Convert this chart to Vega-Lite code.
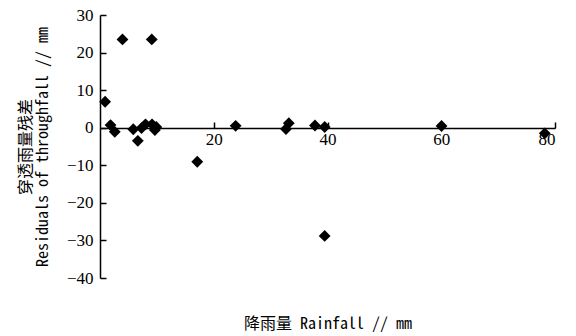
{
  "$schema": "https://vega.github.io/schema/vega-lite/v6.json",
  "width": 455,
  "height": 263,
  "autosize": {"type": "none"},
  "padding": {"left": 100, "top": 15, "right": 21, "bottom": 58},
  "background": "white",
  "config": {"view": {"stroke": null}},
  "data": {
    "values": [
      {"rainfall": 0.9, "residual": 6.9},
      {"rainfall": 3.95, "residual": 23.5},
      {"rainfall": 9.1, "residual": 23.5},
      {"rainfall": 1.85, "residual": 0.7},
      {"rainfall": 2.6, "residual": -1.1},
      {"rainfall": 5.85, "residual": -0.4},
      {"rainfall": 6.65, "residual": -3.5},
      {"rainfall": 7.3, "residual": -0.1},
      {"rainfall": 8.0, "residual": 0.9},
      {"rainfall": 9.15, "residual": 0.9},
      {"rainfall": 9.9, "residual": 0.2},
      {"rainfall": 9.65, "residual": -0.6},
      {"rainfall": 17.1, "residual": -9.05},
      {"rainfall": 23.85, "residual": 0.5},
      {"rainfall": 32.7, "residual": -0.35},
      {"rainfall": 33.2, "residual": 1.2},
      {"rainfall": 37.8, "residual": 0.6},
      {"rainfall": 39.5, "residual": 0.2},
      {"rainfall": 39.5, "residual": -28.8},
      {"rainfall": 60.05, "residual": 0.45},
      {"rainfall": 78.2, "residual": -1.5}
    ]
  },
  "mark": {"type": "point", "shape": "diamond", "filled": true, "color": "black", "size": 140, "opacity": 1},
  "encoding": {
    "x": {
      "field": "rainfall",
      "type": "quantitative",
      "scale": {"domain": [0, 80], "nice": false, "zero": false},
      "axis": {
        "values": [20, 40, 60, 80],
        "offset": -150,
        "tickSize": -6,
        "tickColor": "black",
        "tickWidth": 1.5,
        "domainColor": "black",
        "domainWidth": 1.5,
        "grid": false,
        "labelFont": "Liberation Serif, Times New Roman, serif",
        "labelFontSize": 17,
        "labelColor": "#000000",
        "labelPadding": 9,
        "title": "降雨量 Rainfall // mm",
        "titleFont": "Noto Sans Mono CJK SC, Liberation Mono, Noto Sans CJK SC",
        "titleFontSize": 16,
        "titleFontWeight": "normal",
        "titleColor": "black",
        "titleY": 195,
        "titleBaseline": "middle"
      }
    },
    "y": {
      "field": "residual",
      "type": "quantitative",
      "scale": {"domain": [-40, 30], "nice": false, "zero": false},
      "axis": {
        "values": [-40, -30, -20, -10, 0, 10, 20, 30],
        "tickSize": -6,
        "tickColor": "black",
        "tickWidth": 1.5,
        "domainColor": "black",
        "domainWidth": 1.5,
        "grid": false,
        "labelFont": "Liberation Serif, Times New Roman, serif",
        "labelFontSize": 17,
        "labelColor": "#000000",
        "labelPadding": 13,
        "title": ["穿透雨量残差", "Residuals of throughfall // mm"],
        "titleFont": "Noto Sans Mono CJK SC, Liberation Mono, Noto Sans CJK SC",
        "titleFontSize": 16,
        "titleFontWeight": "normal",
        "titleColor": "black",
        "titleAngle": -90,
        "titleAlign": "center",
        "titleBaseline": "middle",
        "titleLineHeight": 17,
        "titleX": -75,
        "titleY": 131.5
      }
    }
  }
}
